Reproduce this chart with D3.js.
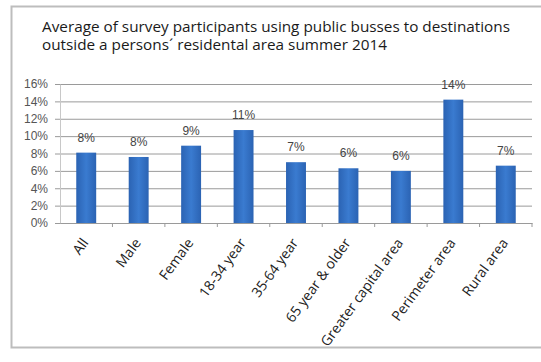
<!DOCTYPE html>
<html>
<head>
<meta charset="utf-8">
<script src="https://cdn.jsdelivr.net/npm/d3@7"></script>
<style>
  body { margin: 0; background: #fff; }
  svg { display: block; }
</style>
</head>
<body>
<script>
const categories = ["All", "Male", "Female", "18-34 year", "35-64 year", "65 year & older",
                    "Greater capital area", "Perimeter area", "Rural area"]
const values = [8.1, 7.6, 8.9, 10.7, 7.0, 6.3, 6.0, 14.2, 6.6]
const valueLabels = ["8%", "8%", "9%", "11%", "7%", "6%", "6%", "14%", "7%"]
const yTicks = [0, 2, 4, 6, 8, 10, 12, 14, 16]
const titleLines = ["Average of survey participants using public busses to destinations",
                    "outside a persons\u00B4 residental area summer 2014"]

const width = 541, height = 362

const svg = d3.select("body").append("svg")
  .attr("width", width)
  .attr("height", height)

// outer frame (right side runs past the picture)
svg.append("rect")
  .attr("x", 11.5).attr("y", 6.5)
  .attr("width", 560).attr("height", 341)
  .attr("fill", "#fff")
  .attr("stroke", "#bdbdbd")
  .attr("stroke-width", 2)

svg.append("g")
  .selectAll("text")
  .data(titleLines)
  .join("text")
  .attr("x", 42)
  .attr("y", (d, i) => 32 + i * 18)
  .attr("font-family", "'Open Sans', sans-serif")
  .attr("font-size", 15.3)
  .attr("fill", "#1a1a1a")
  .text(d => d)

const plot = {left: 60, right: 532, top: 84, bottom: 223}

const x = d3.scaleBand()
  .domain(categories)
  .range([plot.left, plot.right])
  .paddingInner(0.62)
  .paddingOuter(0.31)

const y = d3.scaleLinear()
  .domain([0, 16])
  .range([plot.bottom, plot.top])

// gridlines
svg.append("g")
  .attr("transform", `translate(${plot.left},0)`)
  .call(d3.axisLeft(y).tickValues(yTicks).tickSize(-(plot.right - plot.left)).tickFormat(""))
  .call(g => g.select(".domain").remove())
  .call(g => g.selectAll("line").attr("stroke", "#9a9a9a").attr("x1", -5))

// y labels
svg.append("g")
  .attr("transform", `translate(${plot.left},0)`)
  .call(d3.axisLeft(y).tickValues(yTicks).tickSize(0).tickPadding(12).tickFormat(d => d + "%"))
  .call(g => g.select(".domain").attr("stroke", "#c8c8c8"))
  .call(g => g.selectAll("text")
    .attr("font-family", "'Liberation Sans', sans-serif")
    .attr("font-size", 12)
    .attr("fill", "#555"))

const grad = svg.append("defs").append("linearGradient")
  .attr("id", "barGrad")
  .attr("x1", "0").attr("x2", "1").attr("y1", "0").attr("y2", "0")
grad.append("stop").attr("offset", "0").attr("stop-color", "#2b63b3")
grad.append("stop").attr("offset", "0.5").attr("stop-color", "#3a7bd0")
grad.append("stop").attr("offset", "1").attr("stop-color", "#2b63b3")

svg.append("g")
  .selectAll("rect")
  .data(values)
  .join("rect")
  .attr("x", (d, i) => x(categories[i]))
  .attr("y", d => y(d))
  .attr("width", x.bandwidth())
  .attr("height", d => plot.bottom - y(d))
  .attr("fill", "url(#barGrad)")

// x axis
svg.append("g")
  .attr("transform", `translate(0,${plot.bottom})`)
  .call(d3.axisBottom(x).tickSize(0).tickFormat(""))
  .call(g => g.select(".domain").attr("stroke", "#9a9a9a"))

const step = x.step()
svg.append("g")
  .selectAll("line")
  .data(categories)
  .join("line")
  .attr("x1", d => x(d) - x.paddingOuter() * step + step)
  .attr("x2", d => x(d) - x.paddingOuter() * step + step)
  .attr("y1", plot.bottom)
  .attr("y2", plot.bottom + 4)
  .attr("stroke", "#9a9a9a")

svg.append("g")
  .selectAll("text")
  .data(categories)
  .join("text")
  .attr("text-anchor", "end")
  .attr("dy", "0.35em")
  .attr("transform", d => `translate(${x(d) + x.bandwidth() / 2 - 1},${plot.bottom + 17}) rotate(-54)`)
  .attr("font-family", "'Open Sans', sans-serif")
  .attr("font-size", 14)
  .attr("fill", "#222")
  .text(d => d)

// value labels
svg.append("g")
  .selectAll("text")
  .data(values)
  .join("text")
  .attr("x", (d, i) => x(categories[i]) + x.bandwidth() / 2)
  .attr("y", d => y(d) - 11)
  .attr("text-anchor", "middle")
  .attr("font-family", "'Liberation Sans', sans-serif")
  .attr("font-size", 12)
  .attr("fill", "#444")
  .text((d, i) => valueLabels[i])
</script>
</body>
</html>
